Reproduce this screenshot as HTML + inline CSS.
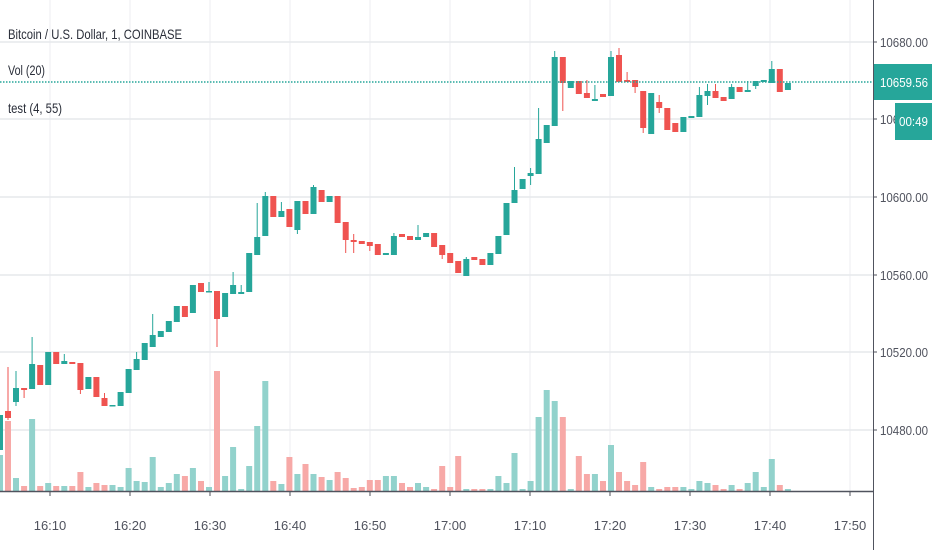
<!DOCTYPE html>
<html><head><meta charset="utf-8"><style>
html,body{margin:0;padding:0;background:#fff;}
svg{display:block;font-family:"Liberation Sans",sans-serif;}
.G rect{fill:#26a69a}.R rect{fill:#ef5350}
.VG rect{fill:#92d2cc}.VR rect{fill:#f7a9a7}
.ax{fill:#50535e;font-size:13px}
</style></head><body>
<svg width="932" height="550" viewBox="0 0 932 550" xmlns="http://www.w3.org/2000/svg">
<g stroke="#eceef2" stroke-width="1">
<line x1="50" y1="0" x2="50" y2="491"/><line x1="130" y1="0" x2="130" y2="491"/><line x1="210" y1="0" x2="210" y2="491"/><line x1="290" y1="0" x2="290" y2="491"/><line x1="370" y1="0" x2="370" y2="491"/><line x1="450" y1="0" x2="450" y2="491"/><line x1="530" y1="0" x2="530" y2="491"/><line x1="610" y1="0" x2="610" y2="491"/><line x1="690" y1="0" x2="690" y2="491"/><line x1="770" y1="0" x2="770" y2="491"/><line x1="850" y1="0" x2="850" y2="491"/>
</g>
<g stroke="#e6e8ec" stroke-width="1.5">
<line x1="0" y1="42" x2="873" y2="42"/><line x1="0" y1="119" x2="873" y2="119"/><line x1="0" y1="197" x2="873" y2="197"/><line x1="0" y1="275" x2="873" y2="275"/><line x1="0" y1="352" x2="873" y2="352"/><line x1="0" y1="430" x2="873" y2="430"/>
</g>
<!-- volume -->
<g class="VG">
<rect x="-3" y="455" width="6" height="36"/><rect x="13" y="478" width="6" height="13"/><rect x="29.1" y="419" width="6" height="72"/><rect x="45.2" y="483" width="6" height="8"/><rect x="61.3" y="486" width="6" height="5"/><rect x="85.4" y="487" width="6" height="4"/><rect x="109.5" y="485" width="6" height="6"/><rect x="117.6" y="487" width="6" height="4"/><rect x="125.6" y="468" width="6" height="23"/><rect x="133.6" y="481" width="6" height="10"/><rect x="141.7" y="482" width="6" height="9"/><rect x="149.7" y="457" width="6" height="34"/><rect x="157.8" y="487" width="6" height="4"/><rect x="165.8" y="483" width="6" height="8"/><rect x="173.8" y="474" width="6" height="17"/><rect x="189.9" y="468" width="6" height="23"/><rect x="206" y="487" width="6" height="4"/><rect x="222.1" y="476" width="6" height="15"/><rect x="230.1" y="447" width="6" height="44"/><rect x="238.2" y="489" width="6" height="2"/><rect x="246.2" y="466" width="6" height="25"/><rect x="254.2" y="426" width="6" height="65"/><rect x="262.3" y="381" width="6" height="110"/><rect x="278.4" y="484" width="6" height="7"/><rect x="294.4" y="474" width="6" height="17"/><rect x="310.5" y="474" width="6" height="17"/><rect x="326.6" y="480" width="6" height="11"/><rect x="382.9" y="476" width="6" height="15"/><rect x="390.9" y="476" width="6" height="15"/><rect x="415" y="483" width="6" height="8"/><rect x="423.1" y="487" width="6" height="4"/><rect x="463.3" y="489" width="6" height="2"/><rect x="487.4" y="489" width="6" height="2"/><rect x="495.4" y="476" width="6" height="15"/><rect x="503.5" y="483" width="6" height="8"/><rect x="511.5" y="453" width="6" height="38"/><rect x="519.6" y="489" width="6" height="2"/><rect x="527.6" y="481" width="6" height="10"/><rect x="535.6" y="417" width="6" height="74"/><rect x="543.7" y="390" width="6" height="101"/><rect x="551.7" y="401" width="6" height="90"/><rect x="567.8" y="489" width="6" height="2"/><rect x="591.9" y="474" width="6" height="17"/><rect x="608" y="445" width="6" height="46"/><rect x="648.2" y="487" width="6" height="4"/><rect x="680.4" y="487" width="6" height="4"/><rect x="688.4" y="489" width="6" height="2"/><rect x="696.4" y="481" width="6" height="10"/><rect x="704.5" y="483" width="6" height="8"/><rect x="728.6" y="485" width="6" height="6"/><rect x="744.7" y="483" width="6" height="8"/><rect x="752.7" y="472" width="6" height="19"/><rect x="760.8" y="487" width="6" height="4"/><rect x="768.8" y="459" width="6" height="32"/><rect x="784.9" y="489" width="6" height="2"/>
</g>
<g class="VR">
<rect x="5" y="421" width="6" height="70"/><rect x="21.1" y="486" width="6" height="5"/><rect x="37.2" y="486" width="6" height="5"/><rect x="53.2" y="486" width="6" height="5"/><rect x="69.3" y="486" width="6" height="5"/><rect x="77.4" y="472" width="6" height="19"/><rect x="93.4" y="483" width="6" height="8"/><rect x="101.5" y="485" width="6" height="6"/><rect x="181.9" y="476" width="6" height="15"/><rect x="198" y="481" width="6" height="10"/><rect x="214" y="371" width="6" height="120"/><rect x="270.3" y="481" width="6" height="10"/><rect x="286.4" y="457" width="6" height="34"/><rect x="302.5" y="464" width="6" height="27"/><rect x="318.6" y="477" width="6" height="14"/><rect x="334.6" y="472" width="6" height="19"/><rect x="342.7" y="478" width="6" height="13"/><rect x="350.7" y="488" width="6" height="3"/><rect x="358.8" y="487" width="6" height="4"/><rect x="366.8" y="480" width="6" height="11"/><rect x="374.8" y="480" width="6" height="11"/><rect x="399" y="483" width="6" height="8"/><rect x="407" y="487" width="6" height="4"/><rect x="431.1" y="489" width="6" height="2"/><rect x="439.2" y="466" width="6" height="25"/><rect x="447.2" y="487" width="6" height="4"/><rect x="455.2" y="456" width="6" height="35"/><rect x="471.3" y="489" width="6" height="2"/><rect x="479.4" y="489" width="6" height="2"/><rect x="559.8" y="417" width="6" height="74"/><rect x="575.8" y="456" width="6" height="35"/><rect x="583.9" y="474" width="6" height="17"/><rect x="600" y="481" width="6" height="10"/><rect x="616" y="472" width="6" height="19"/><rect x="624.1" y="481" width="6" height="10"/><rect x="632.1" y="485" width="6" height="6"/><rect x="640.2" y="462" width="6" height="29"/><rect x="656.2" y="489" width="6" height="2"/><rect x="664.3" y="487" width="6" height="4"/><rect x="672.3" y="487" width="6" height="4"/><rect x="712.5" y="485" width="6" height="6"/><rect x="720.6" y="489" width="6" height="2"/><rect x="736.6" y="489" width="6" height="2"/><rect x="776.8" y="485" width="6" height="6"/>
</g>
<!-- candles green -->
<g class="G">
<rect x="-3" y="415" width="6" height="35"/>
<rect x="13" y="388" width="6" height="14"/><rect x="15.5" y="371" width="1" height="35"/>
<rect x="29.1" y="364" width="6" height="25"/><rect x="31.6" y="337" width="1" height="52"/>
<rect x="45.2" y="352" width="6" height="33"/>
<rect x="61.3" y="361" width="6" height="3"/><rect x="63.8" y="354" width="1" height="10"/>
<rect x="85.4" y="377" width="6" height="12"/>
<rect x="109.5" y="405" width="6" height="1.5"/>
<rect x="117.6" y="392" width="6" height="14"/>
<rect x="125.6" y="369" width="6" height="24"/>
<rect x="133.6" y="359" width="6" height="11"/><rect x="136.1" y="352" width="1" height="18"/>
<rect x="141.7" y="343" width="6" height="17"/>
<rect x="149.7" y="335" width="6" height="12"/><rect x="152.2" y="314" width="1" height="33"/>
<rect x="157.8" y="331" width="6" height="6"/>
<rect x="165.8" y="321" width="6" height="11"/>
<rect x="173.8" y="306" width="6" height="16"/>
<rect x="189.9" y="285" width="6" height="28"/>
<rect x="206" y="291" width="6" height="1.5"/><rect x="208.5" y="282" width="1" height="10"/>
<rect x="222.1" y="293" width="6" height="24"/>
<rect x="230.1" y="285" width="6" height="9"/><rect x="232.6" y="272" width="1" height="22"/>
<rect x="238.2" y="292" width="6" height="2"/><rect x="240.7" y="285" width="1" height="9"/>
<rect x="246.2" y="253" width="6" height="39"/>
<rect x="254.2" y="237" width="6" height="18"/><rect x="256.7" y="203" width="1" height="52"/>
<rect x="262.3" y="196" width="6" height="40"/><rect x="264.8" y="192" width="1" height="44"/>
<rect x="278.4" y="211" width="6" height="6"/><rect x="280.9" y="202" width="1" height="15"/>
<rect x="294.4" y="201" width="6" height="29"/><rect x="296.9" y="201" width="1" height="33"/>
<rect x="310.5" y="187" width="6" height="27"/><rect x="313" y="185" width="1" height="29"/>
<rect x="326.6" y="196" width="6" height="6"/>
<rect x="382.9" y="253" width="6" height="2"/>
<rect x="390.9" y="236" width="6" height="19"/><rect x="393.4" y="233" width="1" height="22"/>
<rect x="415" y="237" width="6" height="3"/><rect x="417.5" y="225" width="1" height="15"/>
<rect x="423.1" y="233" width="6" height="4"/>
<rect x="463.3" y="259" width="6" height="17"/><rect x="465.8" y="257" width="1" height="19"/>
<rect x="487.4" y="253" width="6" height="12"/>
<rect x="495.4" y="236" width="6" height="18"/>
<rect x="503.5" y="203" width="6" height="32"/>
<rect x="511.5" y="190" width="6" height="13"/><rect x="514" y="167" width="1" height="36"/>
<rect x="519.6" y="179" width="6" height="10"/>
<rect x="527.6" y="173" width="6" height="3"/><rect x="530.1" y="168" width="1" height="17"/>
<rect x="535.6" y="139" width="6" height="35"/><rect x="538.1" y="108" width="1" height="66"/>
<rect x="543.7" y="125" width="6" height="18"/>
<rect x="551.7" y="57" width="6" height="69"/><rect x="554.2" y="51" width="1" height="75"/>
<rect x="567.8" y="81" width="6" height="7"/>
<rect x="591.9" y="99" width="6" height="2"/><rect x="594.4" y="85" width="1" height="16"/>
<rect x="608" y="57" width="6" height="39"/><rect x="610.5" y="51" width="1" height="45"/>
<rect x="648.2" y="93" width="6" height="41"/>
<rect x="680.4" y="117" width="6" height="15"/>
<rect x="688.4" y="116" width="6" height="2"/>
<rect x="696.4" y="95" width="6" height="22"/><rect x="698.9" y="87" width="1" height="30"/>
<rect x="704.5" y="91" width="6" height="5"/><rect x="707" y="84" width="1" height="21"/>
<rect x="728.6" y="87" width="6" height="12"/><rect x="731.1" y="84" width="1" height="15"/>
<rect x="744.7" y="90" width="6" height="2"/><rect x="747.2" y="81" width="1" height="11"/>
<rect x="752.7" y="81" width="6" height="5"/><rect x="755.2" y="81" width="1" height="8"/>
<rect x="760.8" y="80" width="6" height="2"/>
<rect x="768.8" y="69" width="6" height="14"/><rect x="771.3" y="61" width="1" height="22"/>
<rect x="784.9" y="83" width="6" height="7"/>
</g>
<!-- candles red -->
<g class="R">
<rect x="5" y="411" width="6" height="7"/><rect x="7.5" y="367" width="1" height="53"/>
<rect x="21.1" y="388" width="6" height="2"/><rect x="23.6" y="388" width="1" height="10"/>
<rect x="37.2" y="365" width="6" height="20"/>
<rect x="53.2" y="352" width="6" height="12"/>
<rect x="69.3" y="362" width="6" height="2"/>
<rect x="77.4" y="363" width="6" height="27"/><rect x="79.9" y="363" width="1" height="31"/>
<rect x="93.4" y="377" width="6" height="20"/>
<rect x="101.5" y="398" width="6" height="8"/><rect x="104" y="393" width="1" height="13"/>
<rect x="181.9" y="306" width="6" height="11"/>
<rect x="198" y="283" width="6" height="9"/>
<rect x="214" y="291" width="6" height="28"/><rect x="216.5" y="291" width="1" height="56"/>
<rect x="270.3" y="196" width="6" height="21"/>
<rect x="286.4" y="209" width="6" height="18"/>
<rect x="302.5" y="201" width="6" height="13"/>
<rect x="318.6" y="190" width="6" height="12"/>
<rect x="334.6" y="196" width="6" height="27"/>
<rect x="342.7" y="222" width="6" height="18"/><rect x="345.2" y="222" width="1" height="31"/>
<rect x="350.7" y="240" width="6" height="2"/><rect x="353.2" y="234" width="1" height="19"/>
<rect x="358.8" y="241" width="6" height="3"/>
<rect x="366.8" y="242" width="6" height="4"/><rect x="369.3" y="242" width="1" height="9"/>
<rect x="374.8" y="244" width="6" height="11"/>
<rect x="399" y="234" width="6" height="3"/>
<rect x="407" y="236" width="6" height="4"/>
<rect x="431.1" y="233" width="6" height="14"/>
<rect x="439.2" y="245" width="6" height="10"/><rect x="441.7" y="245" width="1" height="14"/>
<rect x="447.2" y="253" width="6" height="10"/>
<rect x="455.2" y="261" width="6" height="12"/>
<rect x="471.3" y="257" width="6" height="3"/>
<rect x="479.4" y="259" width="6" height="6"/>
<rect x="559.8" y="57" width="6" height="26"/><rect x="562.3" y="57" width="1" height="54"/>
<rect x="575.8" y="81" width="6" height="13"/>
<rect x="583.9" y="93" width="6" height="5"/><rect x="586.4" y="80" width="1" height="18"/>
<rect x="600" y="94" width="6" height="3"/>
<rect x="616" y="55" width="6" height="27"/><rect x="618.5" y="48" width="1" height="34"/>
<rect x="624.1" y="80" width="6" height="2"/><rect x="626.6" y="72" width="1" height="10"/>
<rect x="632.1" y="80" width="6" height="7"/><rect x="634.6" y="80" width="1" height="13"/>
<rect x="640.2" y="91" width="6" height="37"/><rect x="642.7" y="91" width="1" height="42"/>
<rect x="656.2" y="102" width="6" height="6"/><rect x="658.7" y="95" width="1" height="18"/>
<rect x="664.3" y="108" width="6" height="22"/>
<rect x="672.3" y="123" width="6" height="9"/>
<rect x="712.5" y="91" width="6" height="7"/><rect x="715" y="84" width="1" height="14"/>
<rect x="720.6" y="97" width="6" height="4"/>
<rect x="736.6" y="87" width="6" height="5"/>
<rect x="776.8" y="69" width="6" height="23"/>
</g>
<line x1="0" y1="82" x2="873" y2="82" stroke="#26a69a" stroke-width="1.5" stroke-dasharray="1.5 1.5"/>
<!-- axes -->
<rect x="873" y="0" width="59" height="550" fill="#fff"/>
<rect x="0" y="492" width="873" height="58" fill="#fff"/>
<line x1="873.5" y1="0" x2="873.5" y2="550" stroke="#50535e" stroke-width="1"/>
<line x1="0" y1="491.5" x2="873" y2="491.5" stroke="#50535e" stroke-width="1.5"/>
<g stroke="#50535e">
<line x1="873" y1="42" x2="877" y2="42"/><line x1="873" y1="119" x2="877" y2="119"/><line x1="873" y1="197" x2="877" y2="197"/><line x1="873" y1="275" x2="877" y2="275"/><line x1="873" y1="352" x2="877" y2="352"/><line x1="873" y1="430" x2="877" y2="430"/>
<line x1="50" y1="492" x2="50" y2="496"/><line x1="130" y1="492" x2="130" y2="496"/><line x1="210" y1="492" x2="210" y2="496"/><line x1="290" y1="492" x2="290" y2="496"/><line x1="370" y1="492" x2="370" y2="496"/><line x1="450" y1="492" x2="450" y2="496"/><line x1="530" y1="492" x2="530" y2="496"/><line x1="610" y1="492" x2="610" y2="496"/><line x1="690" y1="492" x2="690" y2="496"/><line x1="770" y1="492" x2="770" y2="496"/><line x1="850" y1="492" x2="850" y2="496"/>
</g>
<g class="ax">
<text x="880" y="47" textLength="48" lengthAdjust="spacingAndGlyphs">10680.00</text>
<text x="880" y="124" textLength="48" lengthAdjust="spacingAndGlyphs">10640.00</text>
<text x="880" y="202" textLength="48" lengthAdjust="spacingAndGlyphs">10600.00</text>
<text x="880" y="280" textLength="48" lengthAdjust="spacingAndGlyphs">10560.00</text>
<text x="880" y="357" textLength="48" lengthAdjust="spacingAndGlyphs">10520.00</text>
<text x="880" y="435" textLength="48" lengthAdjust="spacingAndGlyphs">10480.00</text>
</g>
<g class="ax" text-anchor="middle">
<text x="50" y="530">16:10</text><text x="130" y="530">16:20</text><text x="210" y="530">16:30</text><text x="290" y="530">16:40</text><text x="370" y="530">16:50</text><text x="450" y="530">17:00</text><text x="530" y="530">17:10</text><text x="610" y="530">17:20</text><text x="690" y="530">17:30</text><text x="770" y="530">17:40</text><text x="850" y="530">17:50</text>
</g>
<rect x="874" y="64" width="58" height="36" fill="#26a69a"/>
<text x="880" y="87" fill="#fff" font-size="13" textLength="48" lengthAdjust="spacingAndGlyphs">10659.56</text>
<rect x="895" y="103" width="37" height="37" fill="#26a69a"/>
<text x="899" y="126" fill="#fff" font-size="13" textLength="29" lengthAdjust="spacingAndGlyphs">00:49</text>
<g fill="#2a2e39" font-size="14">
<text x="8" y="39" textLength="174" lengthAdjust="spacingAndGlyphs">Bitcoin / U.S. Dollar, 1, COINBASE</text>
<text x="8" y="75" textLength="37" lengthAdjust="spacingAndGlyphs">Vol (20)</text>
<text x="8" y="113" textLength="54" lengthAdjust="spacingAndGlyphs">test (4, 55)</text>
</g>
</svg>
</body></html>
